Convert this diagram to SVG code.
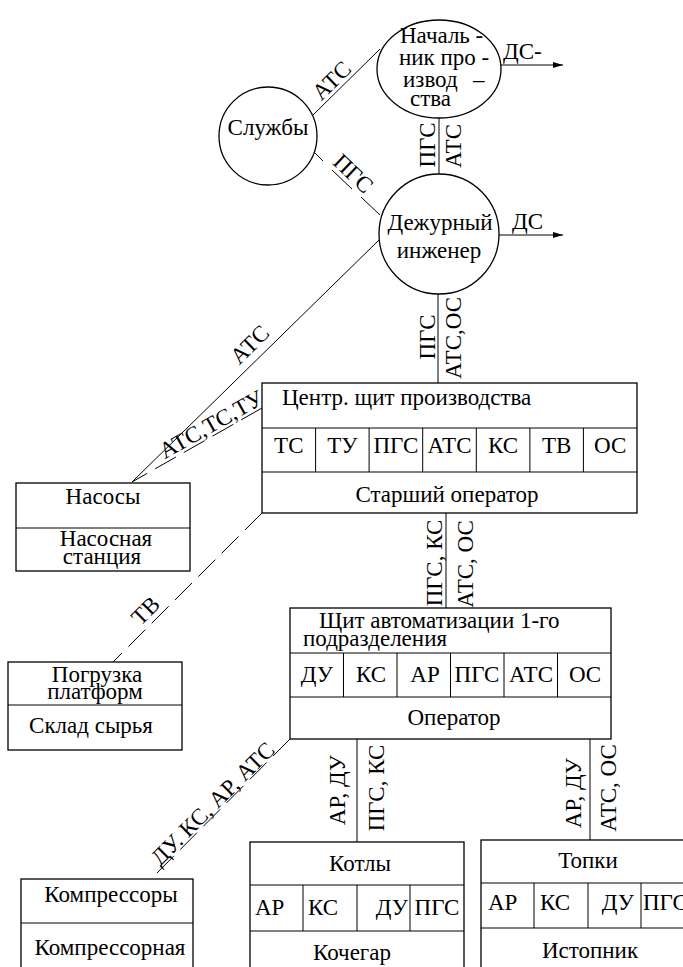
<svg xmlns="http://www.w3.org/2000/svg" width="683" height="967" viewBox="0 0 683 967">
<style>
text{font-family:"Liberation Serif","Times New Roman",serif;font-size:23px;fill:#000}
.m{text-anchor:middle}
.e{text-anchor:end}
.ln{stroke:#000;stroke-width:1;fill:none}
.box{fill:#fff;stroke:#000;stroke-width:1.3}
.ds{stroke-dasharray:24 9}
</style>
<defs>
<marker id="arr" viewBox="0 0 10 6" refX="10" refY="3" markerWidth="10" markerHeight="6" orient="auto" markerUnits="userSpaceOnUse">
<path d="M0,0 L10,3 L0,6 z" fill="#000"/>
</marker>
</defs>
<rect width="683" height="967" fill="#fff"/>
<g id="connectors">
<line class="ln" x1="313" y1="115" x2="380" y2="49"/>
<line class="ln" x1="315" y1="153" x2="323" y2="161"/>
<line class="ln" x1="332" y1="170" x2="352" y2="189"/>
<line class="ln" x1="361" y1="197" x2="380" y2="215"/>
<line class="ln" x1="439" y1="118" x2="439" y2="174"/>
<line class="ln" x1="500" y1="65" x2="563" y2="65" marker-end="url(#arr)"/>
<line class="ln" x1="499" y1="235" x2="563" y2="235" marker-end="url(#arr)"/>
<line class="ln" x1="379" y1="240" x2="132" y2="482"/>
<line class="ln ds" x1="262" y1="408" x2="132" y2="482"/>
<line class="ln" x1="438" y1="294" x2="438" y2="383"/>
<line class="ln ds" x1="262" y1="513" x2="113" y2="662"/>
<line class="ln" x1="446" y1="513" x2="446" y2="608"/>
<line class="ln ds" x1="290" y1="739" x2="151" y2="879"/>
<line class="ln" x1="357" y1="739" x2="357" y2="842"/>
<line class="ln" x1="590" y1="739" x2="590" y2="840"/>
<text class="m" transform="translate(337,86) rotate(-44.6)">АТС</text>
<text class="m" transform="translate(348,179) rotate(43.6)">ПГС</text>
<text x="503" y="59">ДС-</text>
<text x="512" y="229">ДС</text>
<text class="m" transform="translate(435,145) rotate(-90)">ПГС</text>
<text class="m" transform="translate(461,146) rotate(-90)">АТС</text>
<text class="m" transform="translate(435,337) rotate(-90)">ПГС</text>
<text class="m" transform="translate(461,338) rotate(-90)">АТС,ОС</text>
<text class="m" transform="translate(255,350) rotate(-44.4)">АТС</text>
<text class="m" transform="translate(215,431) rotate(-29.5)">АТС,ТС,ТУ</text>
<text class="m" transform="translate(151,616) rotate(-45)">ТВ</text>
<text class="m" transform="translate(442,563) rotate(-90)">ПГС, КС</text>
<text class="m" transform="translate(473,564) rotate(-90)">АТС, ОС</text>
<text class="m" transform="translate(218,809) rotate(-44.8)">ДУ. КС, АР, АТС</text>
<text class="m" transform="translate(345,790) rotate(-90)">АР, ДУ</text>
<text class="m" transform="translate(384,788) rotate(-90)">ПГС, КС</text>
<text class="m" transform="translate(581,793) rotate(-90)">АР, ДУ</text>
<text class="m" transform="translate(616,788) rotate(-90)">АТС, ОС</text>
</g>
<g id="sluzhby">
<circle class="box" cx="268" cy="136" r="49"/>
<text class="m" x="268" y="135">Службы</text>
</g>
<g id="nachalnik">
<ellipse class="box" cx="439" cy="69" rx="62" ry="49"/>
<text x="400" y="43">Началь -</text>
<text x="399" y="65">ник про -</text>
<text x="403" y="87">извод <tspan x="473">–</tspan></text>
<text x="410" y="106">ства</text>
</g>
<g id="dezhurny">
<circle class="box" cx="439" cy="234" r="60"/>
<text class="m" x="440" y="230">Дежурный</text>
<text class="m" x="439" y="258">инженер</text>
</g>
<g id="centr">
<rect class="box" x="262" y="383" width="375" height="130"/>
<path class="ln" d="M262,428H637M262,472H637M315.6,428V472M369.1,428V472M422.7,428V472M476.3,428V472M529.9,428V472M583.4,428V472"/>
<text x="282" y="405">Центр. щит производства</text>
<text class="m" x="288.8" y="453">ТС</text>
<text class="m" x="342.4" y="453">ТУ</text>
<text class="m" x="395.9" y="453">ПГС</text>
<text class="m" x="449.5" y="453">АТС</text>
<text class="m" x="503.1" y="453">КС</text>
<text class="m" x="556.7" y="453">ТВ</text>
<text class="m" x="610.2" y="453">ОС</text>
<text class="m" x="447" y="502">Старший оператор</text>
</g>
<g id="nasosy">
<rect class="box" x="16" y="483" width="174" height="88"/>
<path class="ln" d="M16,528H190"/>
<text class="m" x="103" y="504">Насосы</text>
<text class="m" x="106" y="546">Насосная</text>
<text class="m" x="102" y="564">станция</text>
</g>
<g id="pogruzka">
<rect class="box" x="8" y="662" width="174" height="88"/>
<path class="ln" d="M8,705H182"/>
<text class="m" x="97" y="682">Погрузка</text>
<text class="m" x="95" y="699">платформ</text>
<text class="m" x="91" y="733">Склад сырья</text>
</g>
<g id="shchit">
<rect class="box" x="290" y="608" width="321" height="131"/>
<path class="ln" d="M290,653H611M290,697H611M343.5,653V697M397,653V697M450.5,653V697M504,653V697M557.5,653V697"/>
<text x="319" y="628">Щит автоматизации 1-го</text>
<text x="303" y="646">подразделения</text>
<text class="m" x="317" y="682">ДУ</text>
<text class="m" x="371" y="682">КС</text>
<text class="m" x="425" y="682">АР</text>
<text class="m" x="477" y="682">ПГС</text>
<text class="m" x="531" y="682">АТС</text>
<text class="m" x="585" y="682">ОС</text>
<text class="m" x="454" y="725">Оператор</text>
</g>
<g id="kompressory">
<rect class="box" x="21" y="879" width="172" height="100"/>
<path class="ln" d="M21,923H193"/>
<text class="m" x="111" y="902">Компрессоры</text>
<text class="m" x="110" y="955">Компрессорная</text>
</g>
<g id="kotly">
<rect class="box" x="250" y="842" width="214" height="140"/>
<path class="ln" d="M250,885H464M250,931H464M303,885V931M357,885V931M410,885V931"/>
<text class="m" x="360" y="871">Котлы</text>
<text x="255" y="915">АР</text>
<text x="308" y="915">КС</text>
<text class="e" x="408" y="915">ДУ</text>
<text class="m" x="437" y="915">ПГС</text>
<text class="m" x="352" y="960">Кочегар</text>
</g>
<g id="topki">
<rect class="box" x="481" y="840" width="214" height="140"/>
<path class="ln" d="M481,883H695M481,928H695M534,883V928M588,883V928M641,883V928"/>
<text class="m" x="588" y="868">Топки</text>
<text x="488" y="910">АР</text>
<text x="540" y="910">КС</text>
<text class="e" x="634" y="910">ДУ</text>
<text x="643" y="910">ПГС</text>
<text class="m" x="590" y="958">Истопник</text>
</g>
</svg>
